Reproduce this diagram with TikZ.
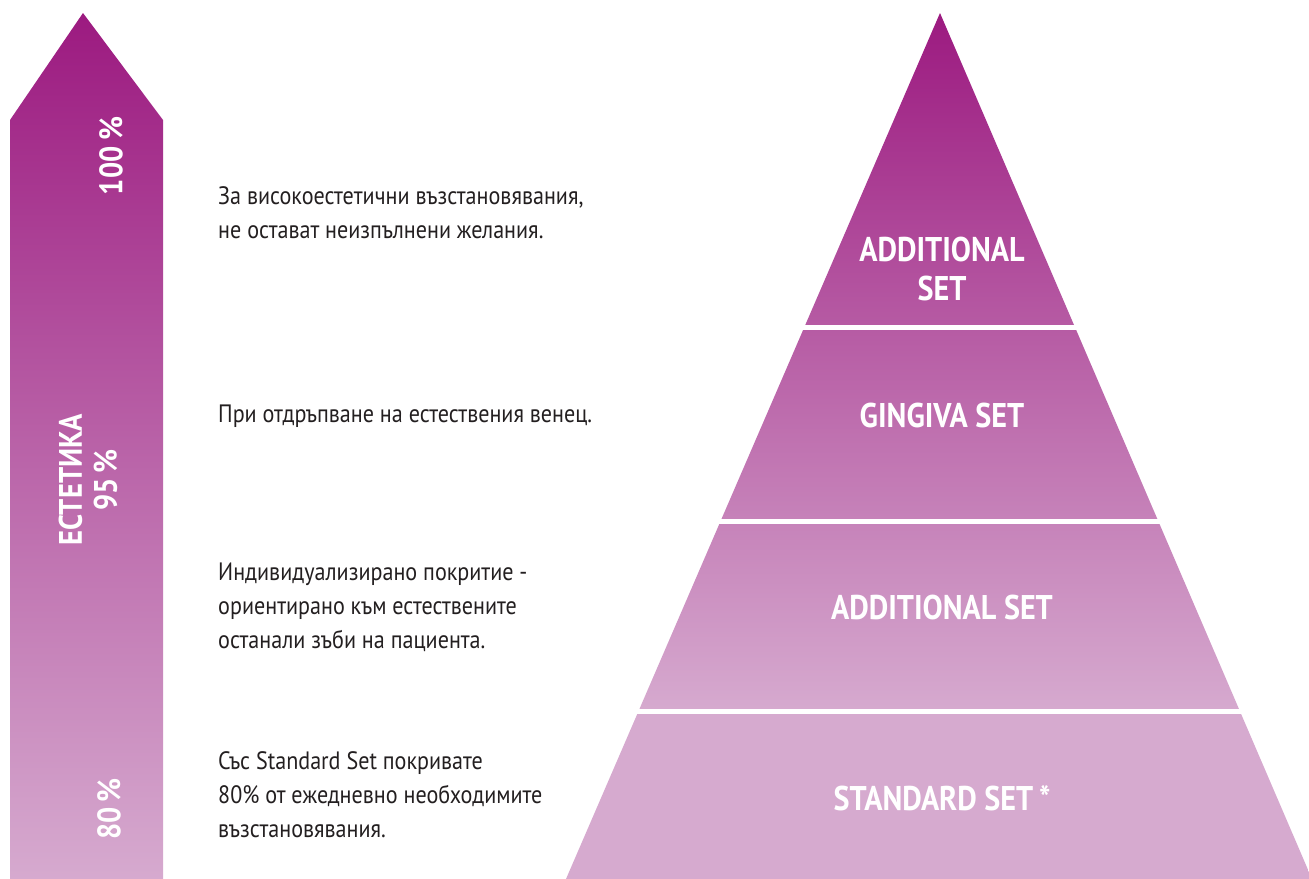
\documentclass[tikz,border=0pt]{standalone}
\usepackage{fontspec}
\setmainfont{PT Sans}[FakeStretch=0.88]
\definecolor{plumtop}{HTML}{9C1A80}
\definecolor{plumbot}{HTML}{D6AACF}
\definecolor{bodytext}{HTML}{231F20}
\tikzset{
  setlabel/.style={text=white, font=\fontsize{19.5}{22}\selectfont\bfseries, align=center},
  barlabel/.style={text=white, font=\fontsize{18.5}{20}\selectfont\bfseries, rotate=90, align=center},
  note/.style={text=bodytext, font=\fontsize{14.3}{19.4}\selectfont, align=left, anchor=west}
}
\begin{document}
\begin{tikzpicture}[x=0.02cm, y=-0.02cm]
  \useasboundingbox (0,0) rectangle (1309,879);
  % arrow on the left
  \shade[top color=plumtop, bottom color=plumbot]
    (10,879) -- (10,120) -- (83,13) -- (163,120) -- (163,879) -- cycle;
  \node[barlabel] (p100) at (111,156) {100\,\%};
  \node[barlabel] (aest) at (88,480) {ЕСТЕТИКА\\95\,\%};
  \node[barlabel] (p80) at (109,809) {80\,\%};
  % pyramid
  \begin{scope}
    \clip (940,13) -- (1312,879) -- (566,879) -- cycle;
    \shade[top color=plumtop, bottom color=plumbot] (550,13) rectangle (1330,712);
    \fill[plumbot] (550,711) rectangle (1330,880);
  \end{scope}
  \fill[white] (550,325) rectangle (1330,330);
  \fill[white] (550,519) rectangle (1330,524);
  \fill[white] (550,709) rectangle (1330,714);
  \node[setlabel] (addtop) at (942,269) {ADDITIONAL\\SET};
  \node[setlabel] (gingiva) at (942,416) {GINGIVA SET};
  \node[setlabel] (addmid) at (942,608) {ADDITIONAL SET};
  \node[setlabel] (standard) at (942,798) {STANDARD SET\,*};
  % notes
  \node[note] (n1) at (212,213) {За високоестетични възстановявания,\\не остават неизпълнени желания.};
  \node[note] (n2) at (212,416) {При отдръпване на естествения венец.};
  \node[note] (n3) at (212,607) {Индивидуализирано покритие -\\ориентирано към естествените\\останали зъби на пациента.};
  \node[note] (n4) at (212,795) {Със Standard Set покривате\\80\% от ежедневно необходимите\\възстановявания.};
\end{tikzpicture}
\end{document}
